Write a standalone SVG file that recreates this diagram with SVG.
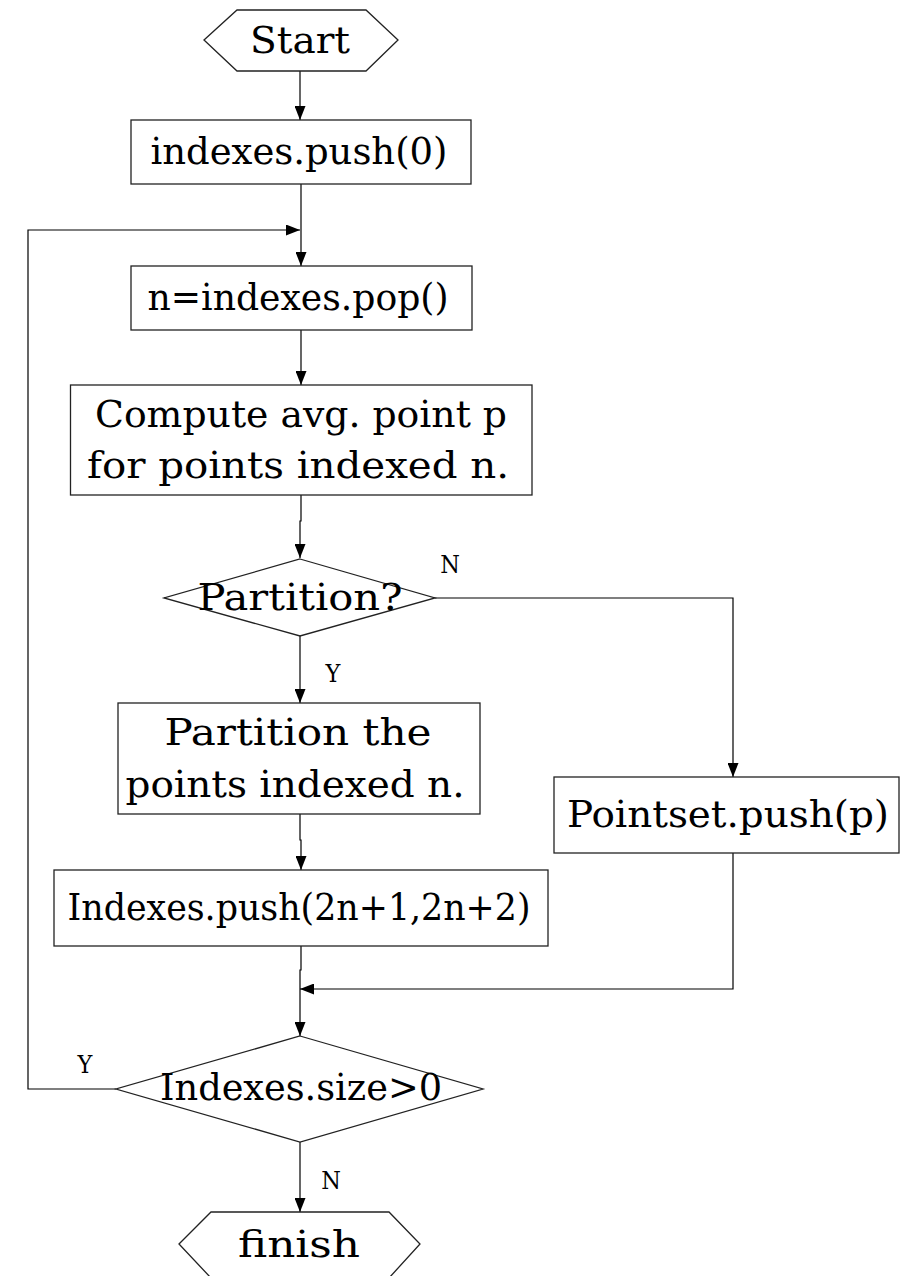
<svg xmlns="http://www.w3.org/2000/svg" width="900" height="1276" viewBox="0 0 900 1276">
<style>
.shape{fill:#fff;stroke:#222;stroke-width:1.3}
.t{font-family:"DejaVu Serif Condensed","DejaVu Serif","Liberation Serif",serif;font-stretch:condensed;font-size:38px;fill:#000;text-anchor:middle}
.lbl{font-family:"DejaVu Serif Condensed","DejaVu Serif","Liberation Serif",serif;font-stretch:condensed;font-size:25px;fill:#000;text-anchor:middle}
.c{fill:none;stroke:#000;stroke-width:1.2}
</style>
<defs>
<marker id="ah" markerUnits="userSpaceOnUse" markerWidth="14" markerHeight="11" refX="14" refY="5.5" orient="auto">
<path d="M0,0 L14,5.5 L0,11 z" fill="#000"/>
</marker>
</defs>
<rect width="900" height="1276" fill="#fff"/>
<g id="connectors">
<path class="c" d="M300,71 V120" marker-end="url(#ah)"/>
<path class="c" d="M301,184 V266" marker-end="url(#ah)"/>
<path class="c" d="M116,1089 H28 V230 H300" marker-end="url(#ah)"/>
<path class="c" d="M301,330 V385" marker-end="url(#ah)"/>
<path class="c" d="M301,495 V521 H300 V558" marker-end="url(#ah)"/>
<path class="c" d="M435,598 H733 V777" marker-end="url(#ah)"/>
<path class="c" d="M300,636 V703" marker-end="url(#ah)"/>
<path class="c" d="M300,814 V840 H301 V870" marker-end="url(#ah)"/>
<path class="c" d="M301,946 V970 H300 V1036" marker-end="url(#ah)"/>
<path class="c" d="M733,853 V989 H300" marker-end="url(#ah)"/>
<path class="c" d="M300,1142 V1212" marker-end="url(#ah)"/>
<text class="lbl" x="450" y="573">N</text>
<text class="lbl" x="333" y="682">Y</text>
<text class="lbl" x="85" y="1073">Y</text>
<text class="lbl" x="331" y="1189">N</text>
</g>
<g id="start">
<polygon class="shape" points="204,40 237,10 366,10 398,40 366,71 237,71"/>
<text class="t" x="300" y="53" textLength="100" lengthAdjust="spacingAndGlyphs">Start</text>
</g>
<g id="push0">
<rect class="shape" x="131" y="120" width="340" height="64"/>
<text class="t" x="299" y="164" textLength="297" lengthAdjust="spacingAndGlyphs">indexes.push(0)</text>
</g>
<g id="pop">
<rect class="shape" x="131" y="266" width="341" height="64"/>
<text class="t" x="298" y="310" textLength="301" lengthAdjust="spacingAndGlyphs">n=indexes.pop()</text>
</g>
<g id="compute">
<rect class="shape" x="70.5" y="385" width="461.5" height="110"/>
<text class="t" x="301" y="427" textLength="412" lengthAdjust="spacingAndGlyphs">Compute avg. point p</text>
<text class="t" x="298" y="478" textLength="422" lengthAdjust="spacingAndGlyphs">for points indexed n.</text>
</g>
<g id="partitionq">
<polygon class="shape" points="300,559 435,598 300,636 164,598"/>
<text class="t" x="300" y="610" textLength="205" lengthAdjust="spacingAndGlyphs">Partition?</text>
</g>
<g id="partition">
<rect class="shape" x="118" y="703" width="362" height="111"/>
<text class="t" x="298" y="745" textLength="267" lengthAdjust="spacingAndGlyphs">Partition the</text>
<text class="t" x="295" y="797" textLength="339" lengthAdjust="spacingAndGlyphs">points indexed n.</text>
</g>
<g id="pointset">
<rect class="shape" x="554" y="777" width="345" height="76"/>
<text class="t" x="728" y="827" textLength="322" lengthAdjust="spacingAndGlyphs">Pointset.push(p)</text>
</g>
<g id="push2">
<rect class="shape" x="54" y="870" width="494" height="76"/>
<text class="t" x="299" y="920" textLength="463" lengthAdjust="spacingAndGlyphs">Indexes.push(2n+1,2n+2)</text>
</g>
<g id="sizeq">
<polygon class="shape" points="300,1036 483,1089 300,1142 116,1089"/>
<text class="t" x="301" y="1100" textLength="282" lengthAdjust="spacingAndGlyphs">Indexes.size&gt;0</text>
</g>
<g id="finish">
<polygon class="shape" points="179,1244 211,1212 389,1212 420,1244 389,1278 211,1278"/>
<text class="t" x="299" y="1257" textLength="122" lengthAdjust="spacingAndGlyphs">finish</text>
</g>
</svg>
